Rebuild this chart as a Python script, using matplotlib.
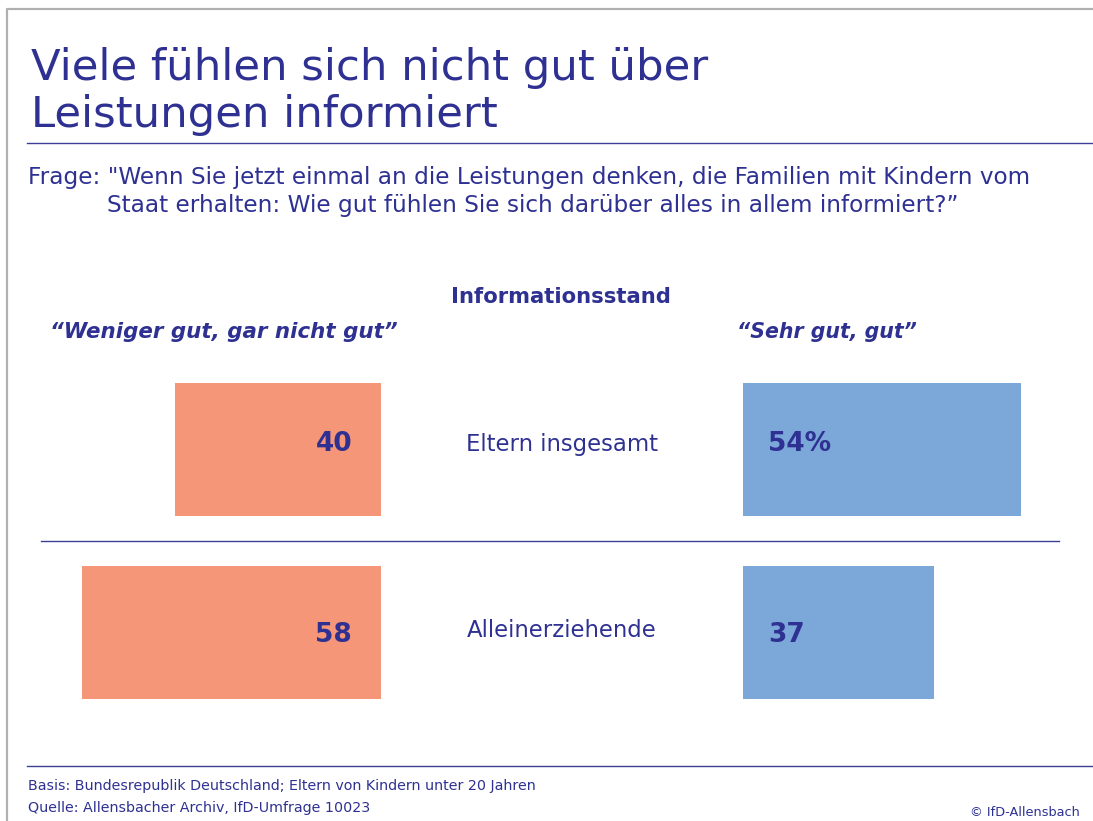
import matplotlib
matplotlib.use("Agg")
import matplotlib.pyplot as plt
from matplotlib.lines import Line2D

# ---- data ----
categories = ["Eltern insgesamt", "Alleinerziehende"]
negative_vals = [40, 58]          # "Weniger gut, gar nicht gut"
positive_vals = [54, 37]          # "Sehr gut, gut"
negative_labels = ["40", "58"]
positive_labels = ["54%", "37"]
title_lines = ["Viele fühlen sich nicht gut über", "Leistungen informiert"]
question_1 = 'Frage: "Wenn Sie jetzt einmal an die Leistungen denken, die Familien mit Kindern vom'
question_2 = 'Staat erhalten: Wie gut fühlen Sie sich darüber alles in allem informiert?\u201d'
header = "Informationsstand"
neg_header = "\u201cWeniger gut, gar nicht gut\u201d"
pos_header = "\u201cSehr gut, gut\u201d"
basis = "Basis: Bundesrepublik Deutschland; Eltern von Kindern unter 20 Jahren"
quelle = "Quelle: Allensbacher Archiv, IfD-Umfrage 10023"
copyright_txt = "\u00a9 IfD-Allensbach"

# ---- style ----
W, H = 1093, 821
DARK = "#2e3192"
ORANGE = "#f49677"
BLUE = "#7ba7d9"
RULE = "#3d3f95"
FONT = "DejaVu Sans"
plt.rcParams["font.family"] = [FONT]

fig = plt.figure(figsize=(W / 100, H / 100), dpi=100)
fig.patch.set_facecolor("white")


def fx(x):
    return x / W


def fy(y):
    return 1 - y / H


def txt(x, y, s, **kw):
    kw.setdefault("color", DARK)
    fig.text(fx(x), fy(y), s, **kw)


def hline(x0, x1, y, color=RULE, lw=1.0):
    fig.add_artist(Line2D([fx(x0), fx(x1)], [fy(y), fy(y)], color=color,
                          lw=lw, transform=fig.transFigure))


# gray frame (left + top)
fig.add_artist(Line2D([fx(6.5), fx(6.5), fx(W)], [fy(H), fy(9), fy(9)],
                      color="#b0b0b0", lw=1.6, transform=fig.transFigure))

# title
txt(31, 80, title_lines[0], fontsize=31.2, va="baseline", ha="left")
txt(31, 127, title_lines[1], fontsize=31.2, va="baseline", ha="left")
hline(27, W, 143)

# question
txt(28, 184, question_1, fontsize=16.7, va="baseline", ha="left")
txt(107, 212, question_2, fontsize=16.7, va="baseline", ha="left")

# headers
txt(561, 297, header, fontsize=15.2, fontweight="bold", ha="center", va="center")
txt(223.5, 332, neg_header, fontsize=15.4, fontweight="bold", style="italic",
    ha="center", va="center")
txt(826.5, 332, pos_header, fontsize=14.8, fontweight="bold", style="italic",
    ha="center", va="center")

# ---- bars ----
px_per_unit = 5.15
origin_px = 381.0          # right edge of negative bars
gap_units = (743.0 - origin_px) / px_per_unit
row_px = 182.5
center0, center1 = 449.5, 632.0
mid = (center0 + center1) / 2
ax_top = mid - row_px
ax_bot = mid + row_px
ax = fig.add_axes([0, fy(ax_bot), 1, (ax_bot - ax_top) / H])
ax.set_xlim(-origin_px / px_per_unit, (W - origin_px) / px_per_unit)
ax.set_ylim(1.5, -0.5)
ax.axis("off")
ypos = list(range(len(categories)))
bar_h = 133 / row_px
ax.barh(ypos, [-v for v in negative_vals], left=0, height=bar_h,
        color=ORANGE, linewidth=0)
ax.barh(ypos, positive_vals, left=gap_units, height=bar_h,
        color=BLUE, linewidth=0)
value_dy = [-5.5 / row_px, 3.0 / row_px]
label_dy = [-5.0 / row_px, -1.5 / row_px]
for i in ypos:
    ax.text(-29 / px_per_unit, i + value_dy[i], negative_labels[i], ha="right",
            va="center", fontsize=19, fontweight="bold", color=DARK)
    ax.text(gap_units + 25 / px_per_unit, i + value_dy[i], positive_labels[i],
            ha="left", va="center", fontsize=19, fontweight="bold", color=DARK)
    ax.text(gap_units / 2, i + label_dy[i], categories[i], ha="center",
            va="center", fontsize=16.4, color=DARK)

# divider between rows
hline(41, 1059, 541)

# footer
hline(27, W, 766)
txt(28, 786, basis, fontsize=10.3, va="center", ha="left")
txt(28, 808, quelle, fontsize=10.3, va="center", ha="left")
txt(1080, 812, copyright_txt, fontsize=9.3, va="center", ha="right")

fig.savefig("out.png", dpi=100, facecolor="white")
